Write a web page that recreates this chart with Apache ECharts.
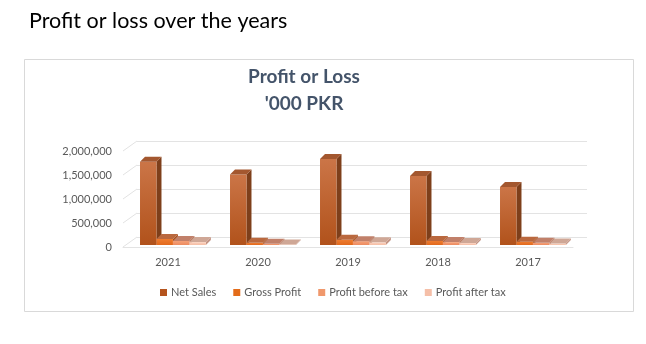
<!DOCTYPE html>
<html>
<head>
<meta charset="utf-8">
<title>Profit or loss over the years</title>
<script src="https://cdn.jsdelivr.net/npm/echarts@6/dist/echarts.min.js"></script>
<style>
  html, body { margin: 0; padding: 0; background: #fff; }
  #chart { width: 646px; height: 344px; }
</style>
</head>
<body>
<div id="chart"></div>
<script>
// Financial years shown on the category axis
const years = ['2021', '2020', '2019', '2018', '2017'];

// Figures in '000 PKR
const netSales = [1735000, 1470000, 1790000, 1440000, 1210000];
const grossProfit = [125000, 45000, 110000, 85000, 70000];
const profitBeforeTax = [85000, 25000, 80000, 60000, 45000];
const profitAfterTax = [60000, 12000, 55000, 40000, 30000];

// Value axis ticks
const yTicks = [0, 500000, 1000000, 1500000, 2000000];

const seriesNames = ['Net Sales', 'Gross Profit', 'Profit before tax', 'Profit after tax'];
const seriesValues = [netSales, grossProfit, profitBeforeTax, profitAfterTax];

// Shading for each box: front gradient, side face, top face, legend swatch
const palettes = [
  { hi: '#CB7547', lo: '#B1521B', side: '#7E3F1B', top: '#A3572F', key: '#B5541E' },
  { hi: '#EE7C30', lo: '#E2691D', side: '#A64F1B', top: '#BA683E', key: '#E36C1A' },
  { hi: '#F4A078', lo: '#EE8C60', side: '#B06A4E', top: '#C1806A', key: '#F0986C' },
  { hi: '#FAD0BC', lo: '#F6BEA5', side: '#C49484', top: '#CFA796', key: '#F5BFA8' }
];

// Box depth in pixels (to the right and upward)
const DX = 5, DY = 5;
// Bars sit a little behind the front edge of the floor
const FLOOR_LIFT = 2;

function boxRenderer(k) {
  const pal = palettes[k];
  return function (params, api) {
    const idx = api.value(0);
    const v = api.value(1);
    const base = api.coord([idx, 0]);
    const top = api.coord([idx, v]);
    const band = api.size([1, 0])[0];
    const w = band * 0.183;
    const x0 = base[0] - band * 0.311 + k * w;
    const by = base[1] - FLOOR_LIFT;
    const ty = top[1] - FLOOR_LIFT;
    return {
      type: 'group',
      children: [
        {
          type: 'polygon',
          shape: { points: [[x0 + w, ty], [x0 + w + DX, ty - DY], [x0 + w + DX, by - DY], [x0 + w, by]] },
          style: { fill: pal.side }
        },
        {
          type: 'rect',
          shape: { x: x0, y: ty, width: w, height: by - ty },
          style: {
            fill: new echarts.graphic.LinearGradient(0, 0, 0, 1, [
              { offset: 0, color: pal.hi },
              { offset: 1, color: pal.lo }
            ])
          }
        },
        {
          type: 'polygon',
          shape: { points: [[x0, ty], [x0 + w, ty], [x0 + w + DX, ty - DY], [x0 + DX, ty - DY]] },
          style: { fill: pal.top }
        }
      ]
    };
  };
}

const barSeries = seriesNames.map((name, k) => ({
  name: name,
  type: 'custom',
  xAxisIndex: 0,
  yAxisIndex: 0,
  renderItem: boxRenderer(k),
  itemStyle: { color: palettes[k].key },
  encode: { x: 0, y: 1 },
  data: seriesValues[k].map((v, i) => [i, v]),
  z: 10
}));

// Short slanted segments joining the value ticks to the back wall
const sideWallSeries = {
  type: 'custom',
  xAxisIndex: 0,
  yAxisIndex: 0,
  silent: true,
  renderItem: function (params, api) {
    const y = api.coord([0, api.value(1)])[1];
    const x = params.coordSys.x;
    return {
      type: 'line',
      shape: { x1: x, y1: y, x2: x + 14, y2: y - 10 },
      style: { stroke: '#E3E3E3', lineWidth: 1 }
    };
  },
  encode: { x: 0, y: 1 },
  data: yTicks.map(t => [0, t]),
  z: 1
};

const chart = echarts.init(document.getElementById('chart'), null, { renderer: 'canvas' });

chart.setOption({
  animation: false,
  backgroundColor: '#ffffff',
  textStyle: { fontFamily: 'Lato, "Open Sans", sans-serif' },
  title: [
    {
      text: 'Profit or loss over the years',
      left: 24,
      top: 5,
      textStyle: { fontFamily: 'Lato', fontSize: 21.5, fontWeight: 'normal', color: '#000000' }
    },
    {
      text: "Profit or Loss\n'000 PKR",
      left: 299,
      top: 58,
      textAlign: 'center',
      textStyle: { fontFamily: 'Lato', fontSize: 19, fontWeight: 'bold', color: '#44546A', lineHeight: 27 }
    }
  ],
  graphic: [
    {
      type: 'rect',
      shape: { x: 24.5, y: 59.5, width: 609, height: 252 },
      style: { fill: 'none', stroke: '#D9D9D9', lineWidth: 1 },
      silent: true,
      z: -1
    }
  ],
  legend: {
    data: seriesNames,
    left: 155,
    top: 282,
    icon: 'rect',
    itemWidth: 7,
    itemHeight: 7,
    itemGap: 17,
    textStyle: { fontFamily: 'Lato', fontSize: 11, color: '#595959', padding: [0, 0, 0, -1] }
  },
  grid: [
    { left: 123, right: 73, top: 151, height: 96 },
    { left: 137, right: 59, top: 141, height: 96 }
  ],
  xAxis: [
    {
      type: 'category',
      gridIndex: 0,
      data: years,
      axisLine: { show: true, lineStyle: { color: '#E3E3E3' } },
      axisTick: { show: false },
      axisLabel: { fontFamily: 'Lato', fontSize: 11, color: '#595959', margin: 10 },
      splitLine: { show: false }
    },
    {
      type: 'category',
      gridIndex: 1,
      data: years,
      axisLine: { show: false },
      axisTick: { show: false },
      axisLabel: { show: false },
      splitLine: { show: false }
    }
  ],
  yAxis: [
    {
      type: 'value',
      gridIndex: 0,
      min: 0,
      max: 2000000,
      interval: 500000,
      axisLine: { show: false },
      axisTick: { show: false },
      splitLine: { show: false },
      axisLabel: {
        fontFamily: 'Lato',
        fontSize: 11,
        color: '#595959',
        margin: 11,
        formatter: v => v.toLocaleString('en-US')
      }
    },
    {
      type: 'value',
      gridIndex: 1,
      min: 0,
      max: 2000000,
      interval: 500000,
      axisLine: { show: false },
      axisTick: { show: false },
      axisLabel: { show: false },
      splitLine: { show: true, lineStyle: { color: '#E3E3E3', width: 1 } }
    }
  ],
  series: [sideWallSeries].concat(barSeries)
});
</script>
</body>
</html>
